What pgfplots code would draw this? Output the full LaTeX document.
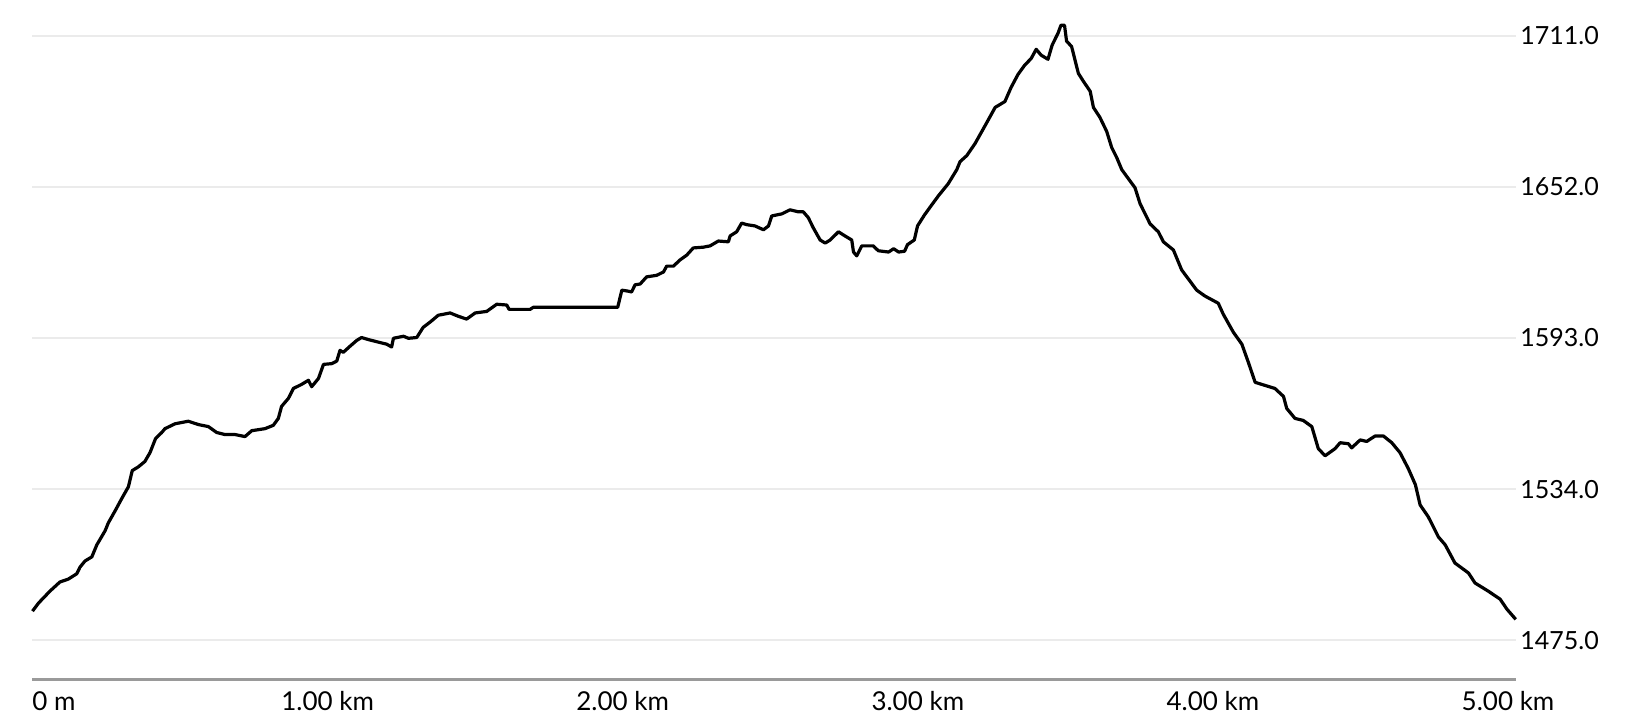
\documentclass[border=0pt]{standalone}
\usepackage{pgfplots}
\pgfplotsset{compat=1.18}
\usepackage{fontspec}
\setmainfont{Lato}
\definecolor{gridc}{HTML}{EBEBEB}
\definecolor{basec}{HTML}{9A9A9A}
\begin{document}
\begin{tikzpicture}
\begin{axis}[
  scale only axis,
  width=741.75pt, height=340pt,
  xmin=0, xmax=5.027,
  ymin=1459.4, ymax=1725.07,
  axis line style={draw=none},
  major tick length=0pt,
  ytick={1475,1534,1593,1652,1711},
  yticklabel pos=right,
  yticklabel style={anchor=west, inner sep=0pt, xshift=2pt, font=\fontsize{12.5}{14}\selectfont,
    /pgf/number format/.cd, fixed, fixed zerofill, precision=1, 1000 sep={}, assume math mode=true},
  ymajorgrids,
  grid style={gridc, line width=0.6pt},
  xtick={0,1,2,3,4,5},
  xticklabels={\makebox[0pt][l]{0 m}, 1.00 km, 2.00 km, 3.00 km, 4.00 km, 5.00 km},
  xticklabel style={anchor=base, inner sep=0pt, yshift=-15.5pt, font=\fontsize{13}{15}\selectfont},
  clip=false,
]
\draw[basec, line width=1.5pt] (rel axis cs:0,0) -- (rel axis cs:1,0);
\addplot[black, line width=1.6pt, line join=round] coordinates {
(0.000,1486.3) (0.020,1489.4) (0.059,1494.1) (0.093,1497.7) (0.121,1498.8) (0.150,1500.9)
(0.161,1503.5) (0.178,1505.9) (0.201,1507.5) (0.218,1512.2) (0.246,1517.7) (0.257,1520.8)
(0.280,1525.5) (0.302,1530.2) (0.325,1534.9) (0.338,1541.2) (0.359,1542.7) (0.381,1544.8)
(0.398,1548.2) (0.417,1553.7) (0.438,1556.1) (0.449,1557.6) (0.483,1559.5) (0.528,1560.5)
(0.562,1559.2) (0.596,1558.4) (0.624,1556.1) (0.652,1555.3) (0.686,1555.3) (0.720,1554.5)
(0.743,1556.8) (0.788,1557.6) (0.816,1558.9) (0.833,1561.6) (0.844,1566.3) (0.867,1569.4)
(0.884,1573.3) (0.912,1574.9) (0.935,1576.5) (0.946,1574.0) (0.969,1577.2) (0.986,1582.7)
(1.014,1583.0) (1.031,1584.0) (1.042,1588.2) (1.053,1587.4) (1.076,1589.8) (1.099,1592.1)
(1.115,1593.2) (1.138,1592.4) (1.172,1591.4) (1.200,1590.6) (1.217,1589.5) (1.223,1592.9)
(1.257,1593.7) (1.274,1592.9) (1.302,1593.2) (1.324,1597.2) (1.347,1599.2) (1.375,1601.9)
(1.415,1602.8) (1.443,1601.5) (1.471,1600.4) (1.500,1602.8) (1.539,1603.4) (1.573,1606.2)
(1.607,1605.9) (1.615,1604.2) (1.686,1604.2) (1.697,1605.0) (1.983,1605.0) (1.997,1611.7)
(2.019,1611.3) (2.030,1611.0) (2.042,1613.8) (2.059,1614.1) (2.081,1616.9) (2.115,1617.5)
(2.138,1618.8) (2.149,1621.1) (2.172,1621.1) (2.194,1623.5) (2.217,1625.4) (2.239,1628.2)
(2.273,1628.5) (2.296,1629.0) (2.324,1630.9) (2.358,1630.6) (2.364,1632.9) (2.386,1634.5)
(2.403,1637.9) (2.420,1637.3) (2.448,1636.8) (2.477,1635.3) (2.494,1636.8) (2.505,1640.7)
(2.539,1641.5) (2.567,1643.1) (2.595,1642.3) (2.612,1642.3) (2.629,1640.0) (2.646,1636.0)
(2.669,1631.3) (2.686,1630.1) (2.703,1631.3) (2.731,1634.5) (2.753,1632.9) (2.776,1631.3)
(2.782,1626.6) (2.793,1625.1) (2.810,1629.0) (2.849,1629.0) (2.866,1627.1) (2.901,1626.6)
(2.918,1627.9) (2.935,1626.6) (2.955,1626.9) (2.965,1629.5) (2.988,1631.3) (2.999,1636.8)
(3.022,1641.0) (3.047,1645.0) (3.070,1648.6) (3.103,1653.3) (3.132,1658.8) (3.143,1661.9)
(3.166,1664.3) (3.194,1669.0) (3.228,1676.0) (3.262,1683.1) (3.295,1685.4) (3.316,1690.9)
(3.339,1695.9) (3.362,1699.6) (3.384,1702.2) (3.401,1705.8) (3.418,1703.5) (3.441,1701.9)
(3.455,1707.4) (3.475,1712.1) (3.485,1715.2) (3.497,1715.2) (3.504,1709.0) (3.521,1706.9)
(3.544,1696.4) (3.561,1693.3) (3.584,1689.4) (3.595,1683.1) (3.617,1679.2) (3.640,1673.7)
(3.657,1667.4) (3.674,1663.5) (3.691,1658.8) (3.736,1651.7) (3.753,1645.5) (3.787,1637.6)
(3.815,1634.5) (3.832,1630.6) (3.866,1627.4) (3.894,1619.6) (3.945,1611.7) (3.973,1609.4)
(4.018,1606.6) (4.035,1602.3) (4.069,1595.3) (4.098,1590.6) (4.120,1583.5) (4.143,1575.7)
(4.165,1574.9) (4.210,1573.3) (4.239,1570.2) (4.250,1565.5) (4.278,1561.6) (4.306,1560.8)
(4.335,1558.4) (4.357,1549.8) (4.380,1547.0) (4.414,1549.8) (4.431,1552.1) (4.459,1551.7)
(4.470,1550.1) (4.499,1553.2) (4.521,1552.6) (4.549,1554.7) (4.578,1554.7) (4.606,1552.1)
(4.634,1548.2) (4.662,1542.0) (4.686,1535.7) (4.702,1527.8) (4.730,1523.1) (4.764,1515.3)
(4.787,1512.2) (4.820,1505.1) (4.866,1501.2) (4.888,1497.3) (4.933,1494.1) (4.973,1491.0)
(4.996,1487.1) (5.026,1483.1)
};
\end{axis}
\pgfresetboundingbox
\useasboundingbox (-16.25pt,-23.5pt) rectangle (804.75pt,340pt);
\end{tikzpicture}
\end{document}
